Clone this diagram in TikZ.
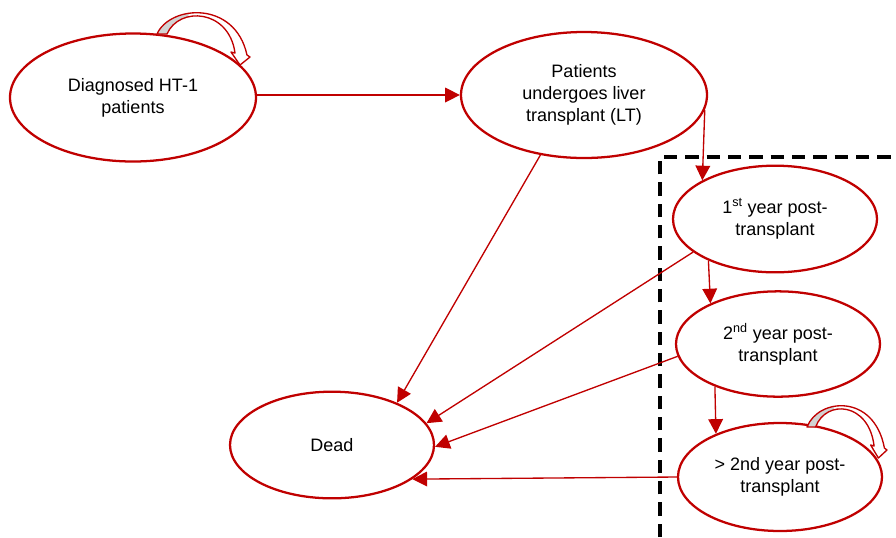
\documentclass[tikz,border=0pt]{standalone}
\usepackage{fontspec}
\setmainfont{Liberation Sans}
\usetikzlibrary{shapes.geometric,arrows.meta}
\definecolor{dkred}{RGB}{192,0,0}
\definecolor{loopgray}{RGB}{210,210,210}
\begin{document}
\begin{tikzpicture}[x=0.75pt,y=-0.75pt,
  state/.style={ellipse,draw=dkred,line width=1.7pt,fill=white,inner sep=0pt,align=center,
    font=\fontsize{13.5}{16.5}\selectfont},
  conn/.style={draw=dkred,line width=1pt,-{Triangle[length=11pt,width=11pt]}},
  loopline/.style={draw=dkred,line width=1pt,line join=round},
  dashbox/.style={draw=black,line width=3pt,dash pattern=on 10pt off 6pt},
  selfloop/.pic={
    \def\bandpath{(0,0) .. controls (13,-29) and (78,-34) .. (90,21) -- (93,23) -- (83,31) -- (74,18) -- (78,19) .. controls (72,-25) and (22,-28) .. (10,0) -- cycle}
    \fill[white] \bandpath;
    \begin{scope}
      \clip \bandpath;
      \fill[loopgray] (-5,5) -- (-5,-40) -- (36,-40) -- (30,-12) -- (14,5) -- cycle;
    \end{scope}
    \draw[loopline] \bandpath;
  }
]
\useasboundingbox (0,0) rectangle (896,537);

% dashed boundary
\draw[dashbox] (660,537) -- (660,157) -- (896,157);

% states
\node[state,minimum width=184.5pt,minimum height=96pt] (diag) at (133,97.5) {Diagnosed HT-1\\patients};
\node[state,minimum width=184.5pt,minimum height=94.5pt] (pat) at (584,95) {Patients\\undergoes liver\\transplant (LT)};
\node[state,minimum width=153pt,minimum height=80pt] (y1) at (775,219) {1\textsuperscript{st} year post-\\transplant};
\node[state,minimum width=153pt,minimum height=79pt] (y2) at (778,344) {2\textsuperscript{nd} year post-\\transplant};
\node[state,minimum width=153pt,minimum height=81pt] (y3) at (780,477) {> 2nd year post-\\transplant};
\node[state,minimum width=153pt,minimum height=80pt] (dead) at (332,445) {Dead};

% connectors
\draw[conn] (diag.east |- pat.west) -- (pat.west);
\draw[conn] (pat.-7.7) -- (y1.152.5);
\draw[conn] (y1.212.6) -- (y2.149.2);
\draw[conn] (y2.214.5) -- (y3.146);
\draw[conn] (pat.-126.3) -- (dead.33.1);
\draw[conn] (y1.-158.8) -- (dead.13.6);
\draw[conn] (y2.-173.8) -- (dead.-1.1);
\draw[conn] (y3.west) -- (dead.-23);

% self loops
\pic at (157,34) {selfloop};
\pic[xscale=0.86] at (807,427) {selfloop};
\end{tikzpicture}
\end{document}
